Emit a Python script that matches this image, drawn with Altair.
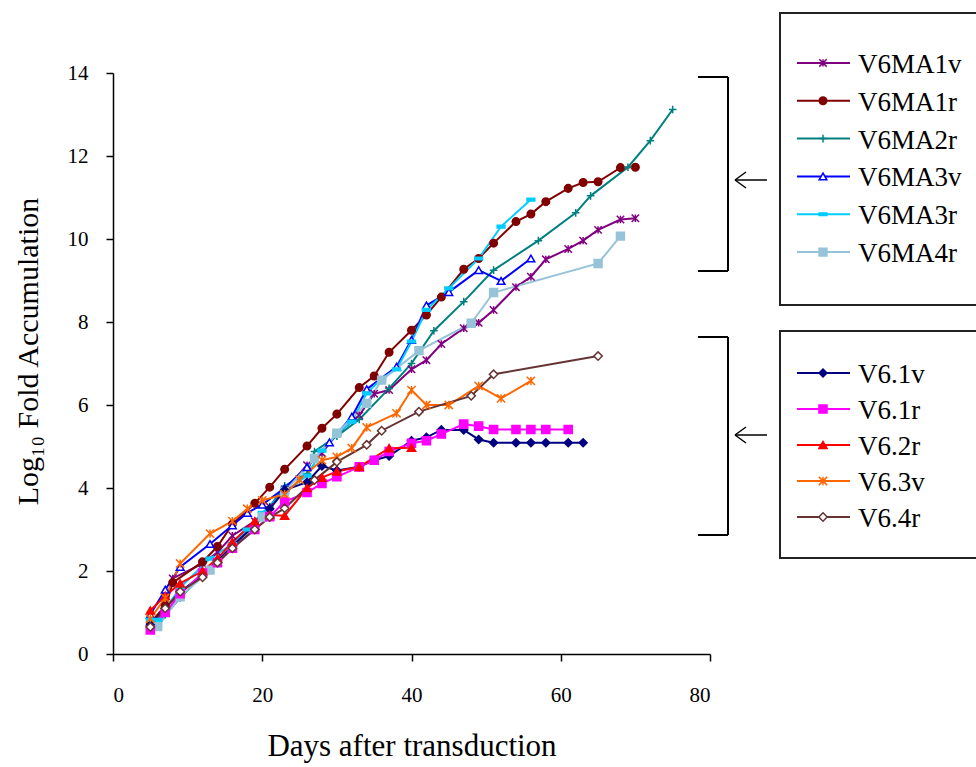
import altair as alt
import pandas as pd

# ---------------- data ----------------
series_names = ["V6MA1v", "V6MA1r", "V6MA2r", "V6MA3v", "V6MA3r", "V6MA4r",
                "V6.1v", "V6.1r", "V6.2r", "V6.3v", "V6.4r"]
group_a = series_names[:6]
group_b = series_names[6:]
series_colors = ["#800080", "#800000", "#008080", "#0000FF", "#00CCFF", "#96C3D8",
                 "#000080", "#FF00FF", "#FF0000", "#FF6600", "#663333"]

ma1v_day = [5, 7, 8, 12, 14, 16, 19, 21, 23, 26, 28, 30, 33, 35, 37, 40, 42, 44, 47, 49, 51, 54, 56, 58, 61, 63, 65, 68, 70]
ma1v_val = [0.6, 1.0, 1.82, 2.18, 2.45, 2.85, 3.2, 3.55, 3.95, 4.55, 4.84, 5.3, 5.75, 6.27, 6.36, 6.86, 7.08, 7.47, 7.85, 7.98, 8.29, 8.84, 9.09, 9.51, 9.76, 9.96, 10.22, 10.47, 10.5]

ma1r_day = [5, 7, 8, 12, 14, 16, 19, 21, 23, 26, 28, 30, 33, 35, 37, 40, 42, 44, 47, 49, 51, 54, 56, 58, 61, 63, 65, 68, 70]
ma1r_val = [0.75, 1.16, 1.72, 2.22, 2.59, 3.13, 3.63, 4.02, 4.45, 5.01, 5.44, 5.78, 6.42, 6.7, 7.27, 7.8, 8.17, 8.6, 9.27, 9.53, 9.9, 10.42, 10.6, 10.9, 11.22, 11.36, 11.38, 11.72, 11.73]

ma2r_day = [5, 7, 9, 12, 14, 16, 19, 21, 23, 26, 27, 30, 33, 37, 40, 43, 47, 51, 57, 62, 64, 69, 72, 75]
ma2r_val = [0.6, 0.95, 1.35, 1.9, 2.2, 2.6, 3.1, 3.55, 4.05, 4.35, 4.88, 5.25, 5.65, 6.4, 7.0, 7.79, 8.49, 9.25, 9.96, 10.63, 11.04, 11.73, 12.37, 13.12]

ma3v_day = [5, 7, 9, 13, 16, 18, 20, 23, 26, 29, 32, 34, 38, 40, 42, 45, 49, 52, 56]
ma3v_val = [0.95, 1.55, 2.1, 2.65, 3.1, 3.4, 3.6, 4.0, 4.5, 5.1, 5.72, 6.38, 6.92, 7.57, 8.4, 8.72, 9.25, 8.99, 9.53]

ma3r_day = [5, 6, 9, 13, 16, 18, 20, 23, 26, 28, 30, 32, 34, 36, 38, 40, 42, 45, 49, 52, 56]
ma3r_val = [0.82, 0.82, 1.6, 2.3, 2.65, 3.0, 3.4, 3.9, 4.3, 4.9, 5.3, 5.6, 6.28, 6.64, 6.86, 7.53, 8.29, 8.81, 9.53, 10.3, 10.95]

ma4r_day = [6, 9, 13, 16, 20, 23, 27, 30, 34, 36, 41, 48, 51, 65, 68]
ma4r_val = [0.66, 1.38, 2.02, 2.55, 3.3, 3.91, 4.71, 5.32, 6.04, 6.6, 7.31, 7.97, 8.71, 9.41, 10.07]

v61v_day = [5, 7, 9, 12, 14, 16, 19, 21, 23, 26, 28, 30, 33, 35, 37, 40, 42, 44, 47, 49, 51, 54, 56, 58, 61, 63]
v61v_val = [0.7, 1.1, 1.5, 1.9, 2.25, 2.6, 3.1, 3.5, 3.95, 4.14, 4.53, 4.42, 4.51, 4.67, 4.77, 5.14, 5.22, 5.4, 5.4, 5.17, 5.09, 5.09, 5.09, 5.09, 5.09, 5.09]

v61r_day = [5, 7, 9, 12, 14, 16, 19, 21, 23, 26, 28, 30, 33, 35, 37, 40, 42, 44, 47, 49, 51, 54, 56, 58, 61]
v61r_val = [0.58, 1.0, 1.45, 1.95, 2.2, 2.55, 3.0, 3.31, 3.67, 3.89, 4.11, 4.27, 4.51, 4.67, 4.88, 5.08, 5.14, 5.3, 5.54, 5.49, 5.41, 5.41, 5.41, 5.41, 5.41]

v62r_day = [5, 7, 9, 12, 14, 16, 19, 21, 23, 26, 28, 30, 33, 37, 40]
v62r_val = [1.05, 1.4, 1.7, 2.0, 2.3, 2.7, 3.2, 3.35, 3.33, 4.0, 4.25, 4.4, 4.51, 4.96, 4.97]

v63v_day = [5, 7, 9, 13, 16, 18, 20, 23, 25, 28, 30, 32, 34, 38, 40, 42, 45, 49, 52, 56]
v63v_val = [0.85, 1.35, 2.18, 2.9, 3.2, 3.5, 3.7, 3.85, 4.2, 4.67, 4.75, 4.96, 5.46, 5.8, 6.36, 6.0, 6.0, 6.46, 6.16, 6.58]

v64r_day = [5, 7, 9, 12, 14, 16, 19, 21, 23, 27, 30, 34, 36, 41, 48, 51, 65]
v64r_val = [0.65, 1.1, 1.5, 1.85, 2.2, 2.55, 3.0, 3.3, 3.51, 4.19, 4.63, 5.04, 5.38, 5.84, 6.22, 6.74, 7.18]

x_ticks = [0, 20, 40, 60, 80]
y_ticks = [0, 2, 4, 6, 8, 10, 12, 14]

# ---------------- build table ----------------
pairs = [(ma1v_day, ma1v_val), (ma1r_day, ma1r_val), (ma2r_day, ma2r_val),
         (ma3v_day, ma3v_val), (ma3r_day, ma3r_val), (ma4r_day, ma4r_val),
         (v61v_day, v61v_val), (v61r_day, v61r_val), (v62r_day, v62r_val),
         (v63v_day, v63v_val), (v64r_day, v64r_val)]
rows = []
for name, (d, v) in zip(series_names, pairs):
    for dd, vv in zip(d, v):
        rows.append({"series": name, "day": dd, "val": vv})
df = pd.DataFrame(rows)
leg_df = pd.DataFrame({"series": series_names})

# marker styles
STAR = "M-1,-1L1,1M-1,1L1,-1M0,-1L0,1"
PLUS = "M-1,0H1M0,-1V1"
DASH = "M-1,-0.35H1V0.35H-1Z"
shapes = [STAR, "circle", PLUS, "triangle-up", DASH, "square",
          "diamond", "square", "triangle-up", STAR, "diamond"]
sizes = [55, 70, 50, 55, 90, 85, 35, 85, 65, 50, 45]
fills = ["transparent", "#800000", "transparent", "white", "#00CCFF", "#96C3D8",
         "#000080", "#FF00FF", "#FF0000", "transparent", "white"]

FONT = "Liberation Serif"

stroke_enc = alt.Stroke("series:N", scale=alt.Scale(domain=series_names, range=series_colors), legend=None)
fill_enc = alt.Fill("series:N", scale=alt.Scale(domain=series_names, range=fills), legend=None)
shape_enc = alt.Shape("series:N", scale=alt.Scale(domain=series_names, range=shapes), legend=None)
size_enc = alt.Size("series:N", scale=alt.Scale(domain=series_names, range=sizes), legend=None)

xenc = alt.X("day:Q", scale=alt.Scale(domain=[0, 80], nice=False),
             axis=alt.Axis(values=x_ticks, title="Days after transduction", grid=False,
                           tickSize=7, tickWidth=1.5, domainWidth=1.5, domainColor="black",
                           tickColor="black", labelFont=FONT, labelFontSize=21, labelColor="black",
                           labelPadding=23, titleFont=FONT, titleFontSize=31,
                           titleFontWeight="normal", titleColor="black", titlePadding=26))
yenc = alt.Y("val:Q", scale=alt.Scale(domain=[0, 14], nice=False),
             axis=alt.Axis(values=y_ticks, title="Log\u2081\u2080 Fold Accumulation", grid=False,
                           tickSize=7, tickWidth=1.5, domainWidth=1.5, domainColor="black",
                           tickColor="black", labelFont=FONT, labelFontSize=21, labelColor="black",
                           labelPadding=18, titleFont=FONT, titleFontSize=30,
                           titleFontWeight="normal", titleColor="black", titlePadding=24,
                           titleY=278))

base = alt.Chart(df)
lines = base.mark_line(strokeWidth=2).encode(x=xenc, y=yenc, stroke=stroke_enc, detail="series:N",
                                             order="day:Q")
points = base.mark_point(opacity=1, strokeWidth=1.5, fillOpacity=1).encode(
    x="day:Q", y="val:Q", stroke=stroke_enc, fill=fill_enc, shape=shape_enc, size=size_enc)
main = alt.layer(lines, points)


def legend_group(names, y0, y1):
    ysc = alt.Y("series:N", scale=alt.Scale(domain=names, range=[y0, y1], padding=0), axis=None)
    src = alt.Chart(leg_df).transform_filter(alt.FieldOneOfPredicate(field="series", oneOf=names))
    seg = src.mark_rule(strokeWidth=2).encode(
        x=alt.value(684), x2=alt.value(737), y=ysc, stroke=stroke_enc)
    mk = src.mark_point(opacity=1, strokeWidth=1.5, fillOpacity=1).encode(
        x=alt.value(710), y=ysc, stroke=stroke_enc, fill=fill_enc, shape=shape_enc, size=size_enc)
    txt = src.mark_text(align="left", baseline="middle", font=FONT, fontSize=27, dy=2,
                        color="black").encode(x=alt.value(745), y=ysc, text="series:N")
    return alt.layer(seg, mk, txt)


legA = legend_group(group_a, -29, 198)
legB = legend_group(group_b, 282, 462)

one = alt.Chart(pd.DataFrame({"k": [0]}))


def seg(x1, x2, y1, y2, w=2):
    return one.mark_rule(strokeWidth=w, color="black").encode(
        x=alt.value(x1), x2=alt.value(x2), y=alt.value(y1), y2=alt.value(y2))


def box(x1, x2, y1, y2):
    return one.mark_rect(fill="white", fillOpacity=0, stroke="#222222", strokeWidth=2).encode(
        x=alt.value(x1), x2=alt.value(x2), y=alt.value(y1), y2=alt.value(y2))


decor = [
    box(667, 900, -60, 232), box(667, 900, 258, 485),
    seg(615, 615, 4, 198), seg(585, 615, 4, 4), seg(585, 615, 198, 198),
    seg(615, 615, 264, 462), seg(585, 615, 264, 264), seg(585, 615, 462, 462),
    seg(622, 654, 107, 107, 1.5), seg(622, 633, 107, 99, 1.5), seg(622, 633, 107, 115, 1.5),
    seg(622, 654, 362, 362, 1.5), seg(622, 633, 362, 354, 1.5), seg(622, 633, 362, 370, 1.5),
]

chart = alt.layer(main, legA, legB, *decor).resolve_scale(y="independent").properties(
    width=597, height=581,
    autosize=alt.AutoSizeParams(type="none"),
    padding={"left": 113, "top": 73, "right": 266, "bottom": 113},
    background="white",
).configure_view(stroke=None)

chart.save("out.html", embed_options={"renderer": "svg", "actions": False})
